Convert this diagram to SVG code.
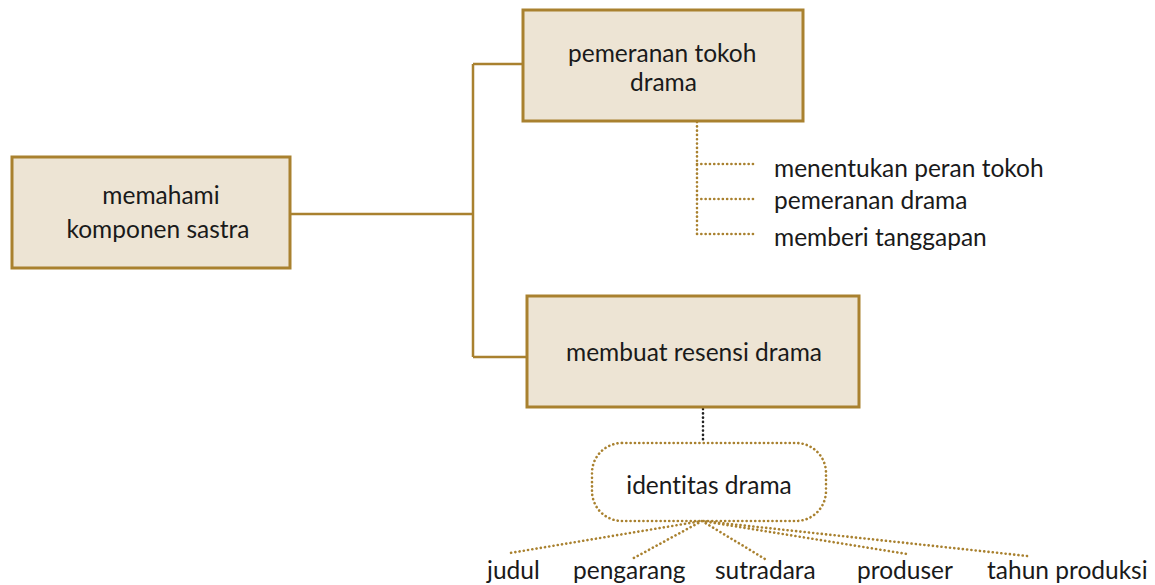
<svg xmlns="http://www.w3.org/2000/svg" width="1155" height="585" viewBox="0 0 1155 585">
<style>
.box{fill:#ede4d4;stroke:#a9812f;stroke-width:3}
.conn{fill:none;stroke:#a9812f;stroke-width:2.5}
.dot{fill:none;stroke:#a9812f;stroke-width:2.6;stroke-dasharray:0.1 4.2;stroke-linecap:round}
.dotk{fill:none;stroke:#222;stroke-width:2.6;stroke-dasharray:0.1 4.2;stroke-linecap:round}
text{font-family:Lato,"Open Sans",sans-serif;font-size:24.5px;fill:#1a1a1a;font-variant-ligatures:none;font-feature-settings:"liga" 0,"dlig" 0}
.m{text-anchor:middle}
</style>
<rect width="1155" height="585" fill="#ffffff"/>
<g id="connectors">
<path class="conn" d="M290 214H473M473 64V357M473 64H523M473 357H527"/>
<path class="dot" d="M697 122V234M697 164H756M697 199H756M697 234H756"/>
<path class="dotk" d="M703 409V442"/>
<path class="dot" d="M702 521L510 553M702 521L632 559M702 521L765 559M702 521L907 554M702 521L1027 556"/>
</g>
<g id="n1"><rect class="box" x="12" y="157" width="278" height="111"/>
<text class="m" x="161" y="204">memahami</text><text class="m" x="158" y="238">komponen sastra</text></g>
<g id="n2"><rect class="box" x="523" y="10" width="280" height="111"/>
<text x="568" y="62">pemeranan tokoh</text><text x="630" y="91">drama</text></g>
<g id="n3"><rect class="box" x="527" y="296" width="332" height="111"/>
<text class="m" x="694" y="361">membuat resensi drama</text></g>
<g id="l1"><text x="774" y="177">menentukan peran tokoh</text></g>
<g id="l2"><text x="774" y="209">pemeranan drama</text></g>
<g id="l3"><text x="774" y="246">memberi tanggapan</text></g>
<g id="n4"><rect class="dot" x="592" y="443" width="234" height="78" rx="30"/>
<text class="m" x="709" y="494">identitas drama</text></g>
<g id="b1"><text x="487" y="579">judul</text></g>
<g id="b2"><text x="573" y="579">pengarang</text></g>
<g id="b3"><text x="715" y="579">sutradara</text></g>
<g id="b4"><text x="857" y="579">produser</text></g>
<g id="b5"><text x="987" y="579">tahun produksi</text></g>
</svg>
